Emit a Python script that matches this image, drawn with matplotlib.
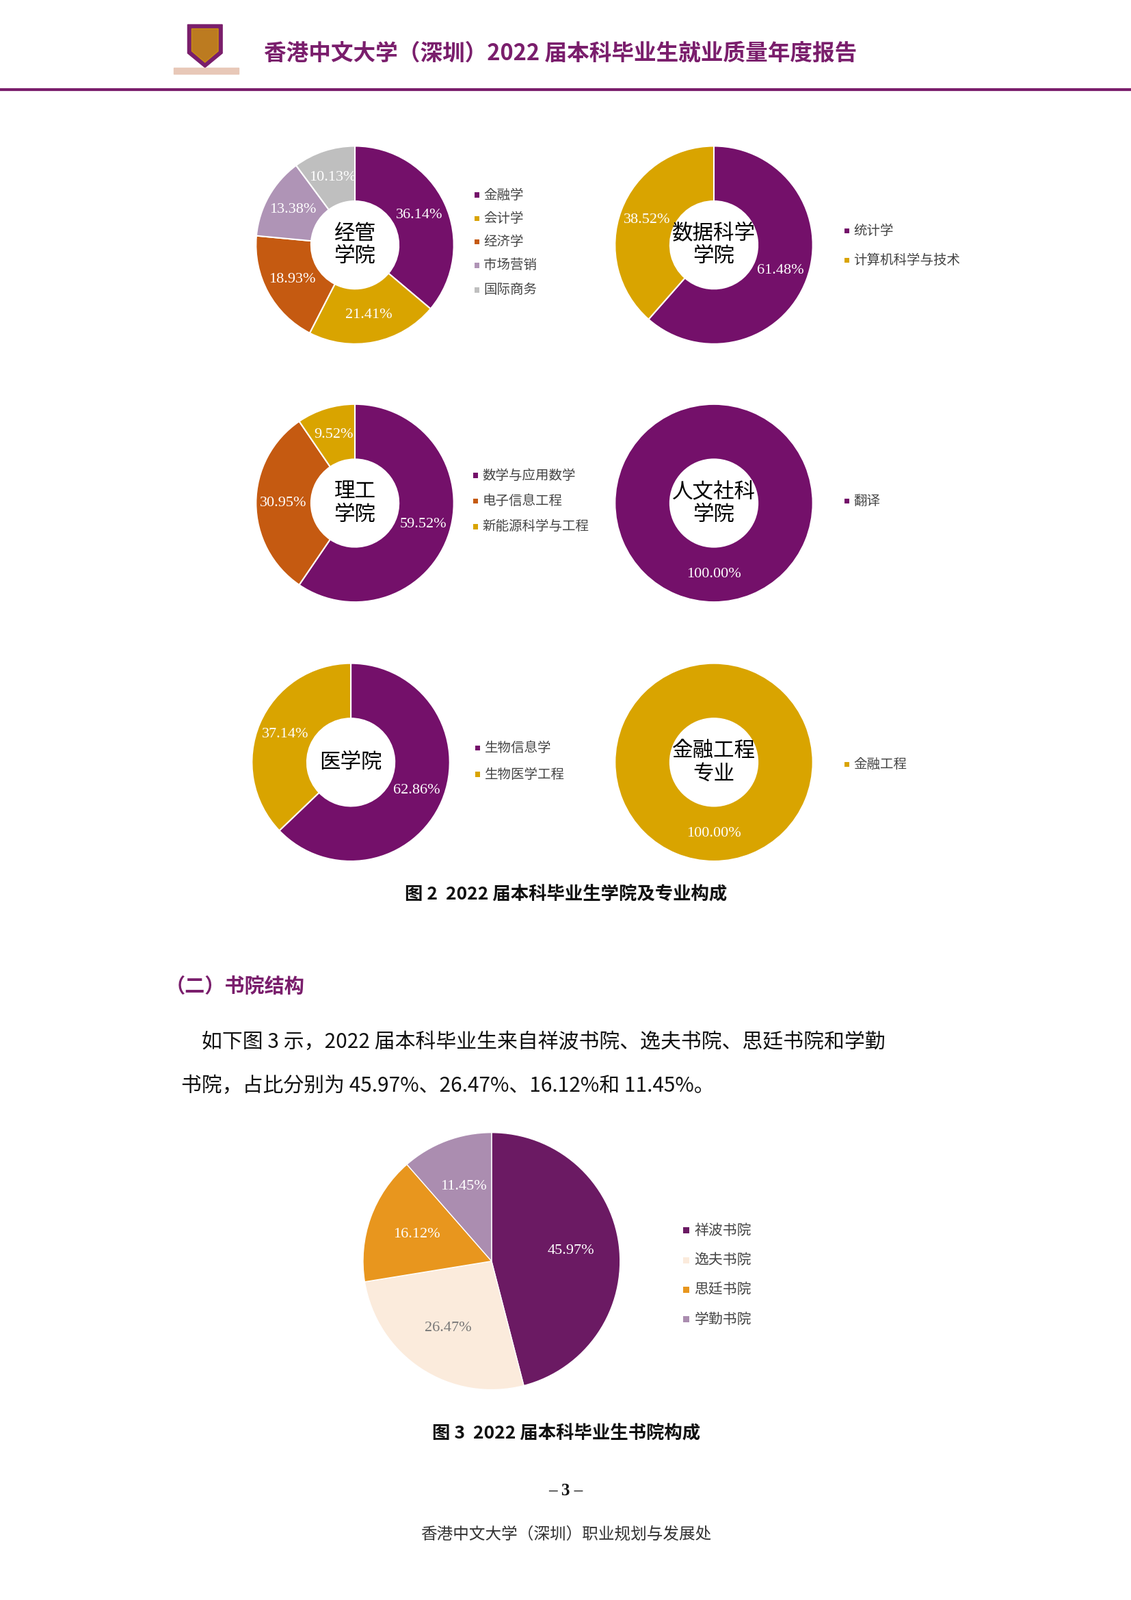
import matplotlib
matplotlib.use("Agg")
import matplotlib.pyplot as plt
from matplotlib.patches import Rectangle, Polygon

CJK = ["Noto Sans CJK SC", "Noto Sans CJK JP", "Noto Sans CJK TC", "DejaVu Sans"]
SERIF = "Liberation Serif"
plt.rcParams["font.family"] = CJK

# ── Data ─────────────────────────────────────────────────────────────────────
jg_labels = ["金融学", "会计学", "经济学", "市场营销", "国际商务"]
jg_values = [36.14, 21.41, 18.93, 13.38, 10.13]
ds_labels = ["统计学", "计算机科学与技术"]
ds_values = [61.48, 38.52]
lg_labels = ["数学与应用数学", "电子信息工程", "新能源科学与工程"]
lg_values = [59.52, 30.95, 9.52]
rw_labels = ["翻译"]
rw_values = [100.00]
yx_labels = ["生物信息学", "生物医学工程"]
yx_values = [62.86, 37.14]
jr_labels = ["金融工程"]
jr_values = [100.00]
col_labels = ["祥波书院", "逸夫书院", "思廷书院", "学勤书院"]
col_values = [45.97, 26.47, 16.12, 11.45]

# ── Palette ──────────────────────────────────────────────────────────────────
PUR = "#74106A"; GOLD = "#D9A400"; ORG = "#C55A11"; LPUR = "#AF94B6"; GRAY = "#BFBFBF"
HEAD = "#7A1E6C"

W, H = 1109, 1568
fig = plt.figure(figsize=(16.54, 23.39), dpi=100, facecolor="white")
ax = fig.add_axes([0, 0, 1, 1])
ax.set_xlim(0, W); ax.set_ylim(0, H); ax.axis("off")
ax.set_aspect("equal")

def Y(y): return H - y

def pct_fmt(vals):
    it = iter(vals)
    return lambda p: f"{next(it):.2f}%"

def donut(cx, cy, vals, cols, center, labels, lx, lys):
    ro, wid = 97, 54
    ax.pie(vals, colors=cols, center=(cx, Y(cy)), radius=ro,
           startangle=90, counterclock=False,
           autopct=pct_fmt(vals), pctdistance=(ro - wid / 2) / ro,
           wedgeprops=dict(width=wid, edgecolor="white", linewidth=1.5),
           textprops=dict(color="white", fontsize=16, fontfamily=SERIF))
    ax.text(cx, Y(cy), center, ha="center", va="center", fontsize=22,
            linespacing=1.1)
    for lab, c, ly in zip(labels, cols, lys):
        ax.add_patch(Rectangle((lx, Y(ly) - 2.5), 5, 5, color=c, lw=0))
        ax.text(lx + 9, Y(ly), lab, ha="left", va="center", fontsize=14,
                color="#444444")

donut(348, 240, jg_values, [PUR, GOLD, ORG, LPUR, GRAY], "经管\n学院", jg_labels,
      465, [191, 214, 237, 260, 284])
donut(700, 240, ds_values, [PUR, GOLD], "数据科学\n学院", ds_labels, 828, [226, 255])
donut(348, 493, lg_values, [PUR, ORG, GOLD], "理工\n学院", lg_labels, 464, [466, 491, 516])
donut(700, 493, rw_values, [PUR], "人文社科\n学院", rw_labels, 828, [491])
donut(344, 747, yx_values, [PUR, GOLD], "医学院", yx_labels, 466, [733, 759])
donut(700, 747, jr_values, [GOLD], "金融工程\n专业", jr_labels, 828, [749])

# ── College pie ──────────────────────────────────────────────────────────────
pcols = ["#6B1A63", "#FBEBDC", "#E8961E", "#AB8DB0"]
_, _, autos = ax.pie(col_values, colors=pcols, center=(482, Y(1236)), radius=126,
                     startangle=90, counterclock=False, autopct=pct_fmt(col_values),
                     pctdistance=0.62, wedgeprops=dict(edgecolor="white", linewidth=1),
                     textprops=dict(color="white", fontsize=16, fontfamily=SERIF))
autos[1].set_color("#777777")
for lab, c, ly in zip(col_labels, pcols, [1206, 1235, 1264, 1293]):
    ax.add_patch(Rectangle((670, Y(ly) - 3), 6, 6, color=c, lw=0))
    ax.text(681, Y(ly), lab, ha="left", va="center", fontsize=15, color="#444444")

ax.set_xlim(0, W); ax.set_ylim(0, H)

# ── Page furniture ───────────────────────────────────────────────────────────
ax.add_patch(Polygon([(184, Y(24)), (218, Y(24)), (218, Y(52)), (201, Y(66)), (184, Y(52))],
                     closed=True, color="#7A1E6C"))
ax.add_patch(Polygon([(188, Y(28)), (214, Y(28)), (214, Y(50)), (201, Y(61)), (188, Y(50))],
                     closed=True, color="#D9A400", alpha=0.7))
ax.add_patch(Rectangle((170, Y(72)), 64, 6, color="#E8C8B8"))
ax.text(259, Y(52), "香港中文大学（深圳）2022 届本科毕业生就业质量年度报告", ha="left", va="center",
        fontsize=23.5, fontweight="bold", color=HEAD)
ax.plot([0, W], [Y(88), Y(88)], color=HEAD, lw=3)

ax.text(555, Y(877), "图 2  2022 届本科毕业生学院及专业构成", ha="center", va="center",
        fontsize=19, fontweight="bold", color="#111111")
ax.text(162, Y(967), "（二）书院结构", ha="left", va="center", fontsize=21,
        fontweight="bold", color=HEAD)
ax.text(198, Y(1021), "如下图 3 示，2022 届本科毕业生来自祥波书院、逸夫书院、思廷书院和学勤",
        ha="left", va="center", fontsize=21.5, color="#111111")
ax.text(178, Y(1064), "书院，占比分别为 45.97%、26.47%、16.12%和 11.45%。",
        ha="left", va="center", fontsize=21.5, color="#111111")
ax.text(555, Y(1405), "图 3  2022 届本科毕业生书院构成", ha="center", va="center",
        fontsize=19, fontweight="bold", color="#111111")
ax.text(555, Y(1461), "– 3 –", ha="center", va="center", fontsize=18, fontweight="bold",
        fontfamily=SERIF, color="#111111")
ax.text(555, Y(1504), "香港中文大学（深圳）职业规划与发展处", ha="center", va="center",
        fontsize=17, color="#333333")

fig.savefig("out.png", dpi=100, facecolor="white")
